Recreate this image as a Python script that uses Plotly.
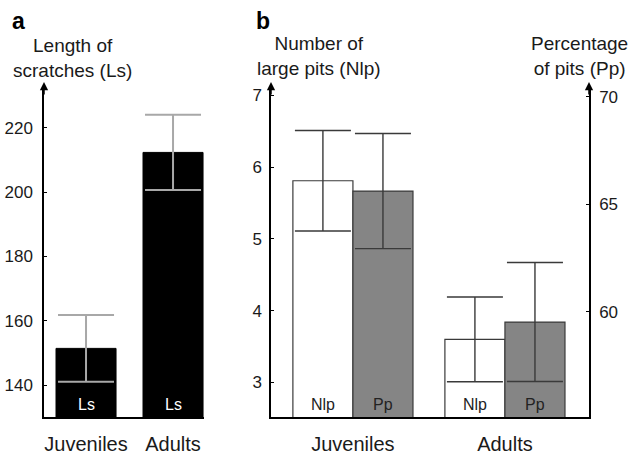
import plotly.graph_objects as go

# ---------------- data ----------------
groups = ["Juveniles", "Adults"]

ls_mean = [151.4, 212.4]
ls_err = [10.4, 11.7]
ls_ticks = [140, 160, 180, 200, 220]

nlp_mean = [5.81, 3.60]
nlp_err = [0.70, 0.59]
nlp_ticks = [3, 4, 5, 6, 7]

pp_mean = [65.62, 59.52]
pp_err = [2.68, 2.77]
pp_ticks = [60, 65, 70]

ls_label = "Ls"
nlp_label = "Nlp"
pp_label = "Pp"

# ---------------- layout constants ----------------
W, H = 632, 454
FONT = "Liberation Sans, Arial, Helvetica, sans-serif"
TXT = "#1a1a1a"

def px(x):
    return x / W

def py(y):
    return 1 - y / H

ydom = [py(417), py(86)]
xdom_a = [px(44), px(204)]
xdom_b = [px(271), px(589)]

ls_range = [130.04, 233.07]
nlp_range = [2.518, 7.13]
pp_range = [55.10, 70.51]

wa = 0.69
wb = 0.395

fig = go.Figure()

# panel a bars
fig.add_trace(go.Bar(
    x=groups, y=ls_mean, width=wa,
    marker=dict(color="black", line=dict(color="black", width=1)),
    error_y=dict(type="data", array=ls_err, visible=True,
                 color="#a8a8a8", thickness=2, width=28),
    xaxis="x", yaxis="y", showlegend=False,
))

# panel b bars
fig.add_trace(go.Bar(
    x=groups, y=nlp_mean, width=wb, offset=-wb,
    marker=dict(color="white", line=dict(color="#3a3a3a", width=1.2)),
    error_y=dict(type="data", array=nlp_err, visible=True,
                 color="#3a3a3a", thickness=1.4, width=28),
    xaxis="x2", yaxis="y2", showlegend=False,
))
fig.add_trace(go.Bar(
    x=groups, y=pp_mean, width=wb, offset=0,
    marker=dict(color="#858585", line=dict(color="#3a3a3a", width=1.2)),
    error_y=dict(type="data", array=pp_err, visible=True,
                 color="#3a3a3a", thickness=1.4, width=28),
    xaxis="x2", yaxis="y3", showlegend=False,
))

axis_common = dict(showgrid=False, zeroline=False, showline=True,
                   linecolor="black", linewidth=1.5,
                   tickfont=dict(family=FONT, size=17, color=TXT))
xfont = dict(family=FONT, size=20, color=TXT)
ytick = dict(ticks="inside", ticklen=3, tickwidth=1, tickcolor="black")

fig.update_layout(
    width=W, height=H,
    margin=dict(l=0, r=0, t=0, b=0),
    paper_bgcolor="white", plot_bgcolor="white",
    barmode="overlay",
    xaxis=dict(domain=xdom_a, anchor="y", type="category",
               range=[-0.483, 1.356], ticks="", ticklabelstandoff=8,
               **{**axis_common, "tickfont": xfont}),
    yaxis=dict(domain=ydom, anchor="x", range=ls_range,
               tickvals=ls_ticks, ticklabelstandoff=6, **ytick, **axis_common),
    xaxis2=dict(domain=xdom_b, anchor="y2", type="category",
                range=[-0.539, 1.553], ticks="", ticklabelstandoff=8,
                **{**axis_common, "tickfont": xfont}),
    yaxis2=dict(domain=ydom, anchor="x2", range=nlp_range, side="left",
                tickvals=nlp_ticks, ticklabelstandoff=4, **ytick, **axis_common),
    yaxis3=dict(domain=ydom, anchor="x2", overlaying="y2", side="right",
                range=pp_range, tickvals=pp_ticks, ticklabelstandoff=5,
                **ytick, **axis_common),
)

ann = []
# axis arrows
for xp in [xdom_a[0], xdom_b[0], xdom_b[1]]:
    ann.append(dict(x=xp, y=py(82), xref="paper", yref="paper", text="",
                    showarrow=True, ax=0, ay=14, arrowhead=2, arrowsize=1.1,
                    arrowwidth=1.5, arrowcolor="black"))

# panel letters
ann.append(dict(x=px(10), y=py(21), xref="paper", yref="paper", text="<b>a</b>",
                showarrow=False, xanchor="left", yanchor="middle",
                font=dict(family=FONT, size=23, color="black")))
ann.append(dict(x=px(254), y=py(21), xref="paper", yref="paper", text="<b>b</b>",
                showarrow=False, xanchor="left", yanchor="middle",
                font=dict(family=FONT, size=23, color="black")))

# axis titles
title_font = dict(family=FONT, size=19, color=TXT)
ann.append(dict(x=px(72), y=py(58), xref="paper", yref="paper",
                text="Length of<br>scratches (Ls)", showarrow=False,
                xanchor="center", yanchor="middle", align="center", font=title_font))
ann.append(dict(x=px(319), y=py(56), xref="paper", yref="paper",
                text="Number of<br>large pits (Nlp)", showarrow=False,
                xanchor="center", yanchor="middle", align="center", font=title_font))
ann.append(dict(x=px(630), y=py(56), xref="paper", yref="paper",
                text="Percentage<br>of pits (Pp)", showarrow=False,
                xanchor="right", yanchor="middle", align="center", font=title_font))

# in-bar labels
lab_font_w = dict(family=FONT, size=16, color="white")
lab_font_d = dict(family=FONT, size=16, color="#222222")
for i, g in enumerate(groups):
    ann.append(dict(x=i, y=ls_range[0], xref="x", yref="y", text=ls_label,
                    showarrow=False, yanchor="bottom", yshift=2, font=lab_font_w))
    ann.append(dict(x=i - wb / 2, y=nlp_range[0], xref="x2", yref="y2", text=nlp_label,
                    showarrow=False, yanchor="bottom", yshift=2, font=lab_font_d))
    ann.append(dict(x=i + wb / 2, y=pp_range[0], xref="x2", yref="y3", text=pp_label,
                    showarrow=False, yanchor="bottom", yshift=2, font=lab_font_d))

fig.update_layout(annotations=ann)

fig.write_html("out.html",
               config={"displayModeBar": False},
               post_script="document.body.style.margin='0';"
                           "document.body.style.overflow='hidden';")
